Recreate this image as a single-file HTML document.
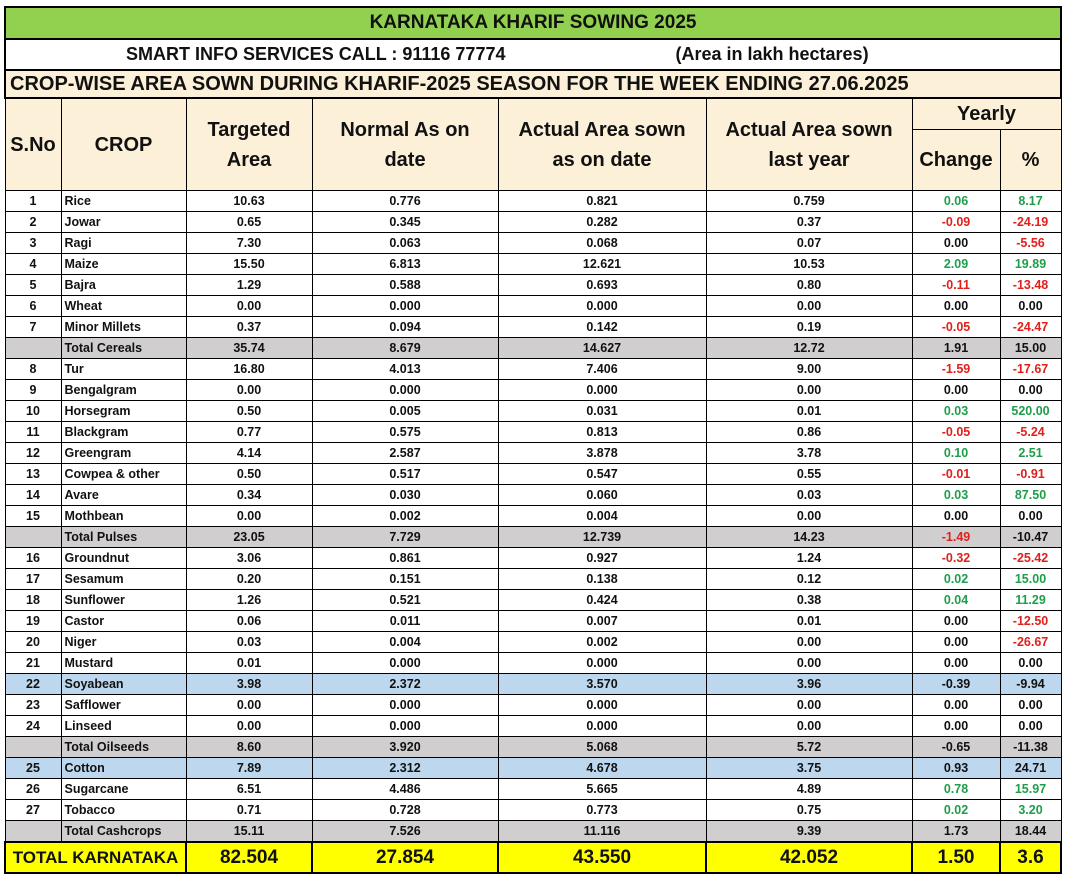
<!DOCTYPE html>
<html><head><meta charset="utf-8"><style>
body{margin:0;background:#fff;width:1065px;height:878px;overflow:hidden;font-family:"Liberation Sans",sans-serif;}
table{position:absolute;left:4px;top:6px;border-collapse:collapse;table-layout:fixed;width:1056px;}
td{border:1px solid #000;padding:0;font-weight:bold;font-size:12.5px;text-align:center;white-space:nowrap;overflow:hidden;color:#111;}
td.l{text-align:left;padding-left:3px;}
tr.d td{height:20px;}
.g{color:#1e9e4a}.r{color:#e0201a}
tr.s td{background:#d0cece;}
tr.b td{background:#bdd7ee;}
tr.h td{background:#fdf0d8;font-size:20px;line-height:30px;}
tr.t td{background:#ffff00;font-size:19px;height:29px;border-width:2px;}
</style></head><body>
<table>
<colgroup><col style="width:56px"><col style="width:125px"><col style="width:126px"><col style="width:186px"><col style="width:208px"><col style="width:206px"><col style="width:88px"><col style="width:61px"></colgroup>
<tr><td colspan="8" style="background:#92d050;height:30px;font-size:19px;border-width:2px">KARNATAKA KHARIF SOWING 2025</td></tr>
<tr><td colspan="8" style="height:29px;font-size:18px;text-align:left;padding-left:120px;border-width:2px">SMART INFO SERVICES CALL : 91116 77774<span style="margin-left:170px">(Area in lakh hectares)</span></td></tr>
<tr><td colspan="8" style="background:#fdf0d8;height:26px;font-size:20px;text-align:left;padding-left:4px;border-width:2px">CROP-WISE AREA SOWN DURING KHARIF-2025 SEASON FOR THE WEEK ENDING 27.06.2025</td></tr>
<tr class="h"><td rowspan="2" style="height:91px">S.No</td><td rowspan="2">CROP</td><td rowspan="2">Targeted<br>Area</td><td rowspan="2">Normal As on<br>date</td><td rowspan="2">Actual Area sown<br>as on date</td><td rowspan="2">Actual Area sown<br>last year</td><td colspan="2" style="height:30px">Yearly</td></tr>
<tr class="h"><td style="height:60px">Change</td><td>%</td></tr>
<tr class="d"><td>1</td><td class="l">Rice</td><td>10.63</td><td>0.776</td><td>0.821</td><td>0.759</td><td class="g">0.06</td><td class="g">8.17</td></tr>
<tr class="d"><td>2</td><td class="l">Jowar</td><td>0.65</td><td>0.345</td><td>0.282</td><td>0.37</td><td class="r">-0.09</td><td class="r">-24.19</td></tr>
<tr class="d"><td>3</td><td class="l">Ragi</td><td>7.30</td><td>0.063</td><td>0.068</td><td>0.07</td><td>0.00</td><td class="r">-5.56</td></tr>
<tr class="d"><td>4</td><td class="l">Maize</td><td>15.50</td><td>6.813</td><td>12.621</td><td>10.53</td><td class="g">2.09</td><td class="g">19.89</td></tr>
<tr class="d"><td>5</td><td class="l">Bajra</td><td>1.29</td><td>0.588</td><td>0.693</td><td>0.80</td><td class="r">-0.11</td><td class="r">-13.48</td></tr>
<tr class="d"><td>6</td><td class="l">Wheat</td><td>0.00</td><td>0.000</td><td>0.000</td><td>0.00</td><td>0.00</td><td>0.00</td></tr>
<tr class="d"><td>7</td><td class="l">Minor Millets</td><td>0.37</td><td>0.094</td><td>0.142</td><td>0.19</td><td class="r">-0.05</td><td class="r">-24.47</td></tr>
<tr class="d s"><td></td><td class="l">Total Cereals</td><td>35.74</td><td>8.679</td><td>14.627</td><td>12.72</td><td>1.91</td><td>15.00</td></tr>
<tr class="d"><td>8</td><td class="l">Tur</td><td>16.80</td><td>4.013</td><td>7.406</td><td>9.00</td><td class="r">-1.59</td><td class="r">-17.67</td></tr>
<tr class="d"><td>9</td><td class="l">Bengalgram</td><td>0.00</td><td>0.000</td><td>0.000</td><td>0.00</td><td>0.00</td><td>0.00</td></tr>
<tr class="d"><td>10</td><td class="l">Horsegram</td><td>0.50</td><td>0.005</td><td>0.031</td><td>0.01</td><td class="g">0.03</td><td class="g">520.00</td></tr>
<tr class="d"><td>11</td><td class="l">Blackgram</td><td>0.77</td><td>0.575</td><td>0.813</td><td>0.86</td><td class="r">-0.05</td><td class="r">-5.24</td></tr>
<tr class="d"><td>12</td><td class="l">Greengram</td><td>4.14</td><td>2.587</td><td>3.878</td><td>3.78</td><td class="g">0.10</td><td class="g">2.51</td></tr>
<tr class="d"><td>13</td><td class="l">Cowpea &amp; other</td><td>0.50</td><td>0.517</td><td>0.547</td><td>0.55</td><td class="r">-0.01</td><td class="r">-0.91</td></tr>
<tr class="d"><td>14</td><td class="l">Avare</td><td>0.34</td><td>0.030</td><td>0.060</td><td>0.03</td><td class="g">0.03</td><td class="g">87.50</td></tr>
<tr class="d"><td>15</td><td class="l">Mothbean</td><td>0.00</td><td>0.002</td><td>0.004</td><td>0.00</td><td>0.00</td><td>0.00</td></tr>
<tr class="d s"><td></td><td class="l">Total Pulses</td><td>23.05</td><td>7.729</td><td>12.739</td><td>14.23</td><td class="r">-1.49</td><td>-10.47</td></tr>
<tr class="d"><td>16</td><td class="l">Groundnut</td><td>3.06</td><td>0.861</td><td>0.927</td><td>1.24</td><td class="r">-0.32</td><td class="r">-25.42</td></tr>
<tr class="d"><td>17</td><td class="l">Sesamum</td><td>0.20</td><td>0.151</td><td>0.138</td><td>0.12</td><td class="g">0.02</td><td class="g">15.00</td></tr>
<tr class="d"><td>18</td><td class="l">Sunflower</td><td>1.26</td><td>0.521</td><td>0.424</td><td>0.38</td><td class="g">0.04</td><td class="g">11.29</td></tr>
<tr class="d"><td>19</td><td class="l">Castor</td><td>0.06</td><td>0.011</td><td>0.007</td><td>0.01</td><td>0.00</td><td class="r">-12.50</td></tr>
<tr class="d"><td>20</td><td class="l">Niger</td><td>0.03</td><td>0.004</td><td>0.002</td><td>0.00</td><td>0.00</td><td class="r">-26.67</td></tr>
<tr class="d"><td>21</td><td class="l">Mustard</td><td>0.01</td><td>0.000</td><td>0.000</td><td>0.00</td><td>0.00</td><td>0.00</td></tr>
<tr class="d b"><td>22</td><td class="l">Soyabean</td><td>3.98</td><td>2.372</td><td>3.570</td><td>3.96</td><td>-0.39</td><td>-9.94</td></tr>
<tr class="d"><td>23</td><td class="l">Safflower</td><td>0.00</td><td>0.000</td><td>0.000</td><td>0.00</td><td>0.00</td><td>0.00</td></tr>
<tr class="d"><td>24</td><td class="l">Linseed</td><td>0.00</td><td>0.000</td><td>0.000</td><td>0.00</td><td>0.00</td><td>0.00</td></tr>
<tr class="d s"><td></td><td class="l">Total Oilseeds</td><td>8.60</td><td>3.920</td><td>5.068</td><td>5.72</td><td>-0.65</td><td>-11.38</td></tr>
<tr class="d b"><td>25</td><td class="l">Cotton</td><td>7.89</td><td>2.312</td><td>4.678</td><td>3.75</td><td>0.93</td><td>24.71</td></tr>
<tr class="d"><td>26</td><td class="l">Sugarcane</td><td>6.51</td><td>4.486</td><td>5.665</td><td>4.89</td><td class="g">0.78</td><td class="g">15.97</td></tr>
<tr class="d"><td>27</td><td class="l">Tobacco</td><td>0.71</td><td>0.728</td><td>0.773</td><td>0.75</td><td class="g">0.02</td><td class="g">3.20</td></tr>
<tr class="d s"><td></td><td class="l">Total Cashcrops</td><td>15.11</td><td>7.526</td><td>11.116</td><td>9.39</td><td>1.73</td><td>18.44</td></tr>
<tr class="t"><td colspan="2" style="font-size:17px">TOTAL KARNATAKA</td><td>82.504</td><td>27.854</td><td>43.550</td><td>42.052</td><td>1.50</td><td>3.6</td></tr>
</table>
</body></html>
